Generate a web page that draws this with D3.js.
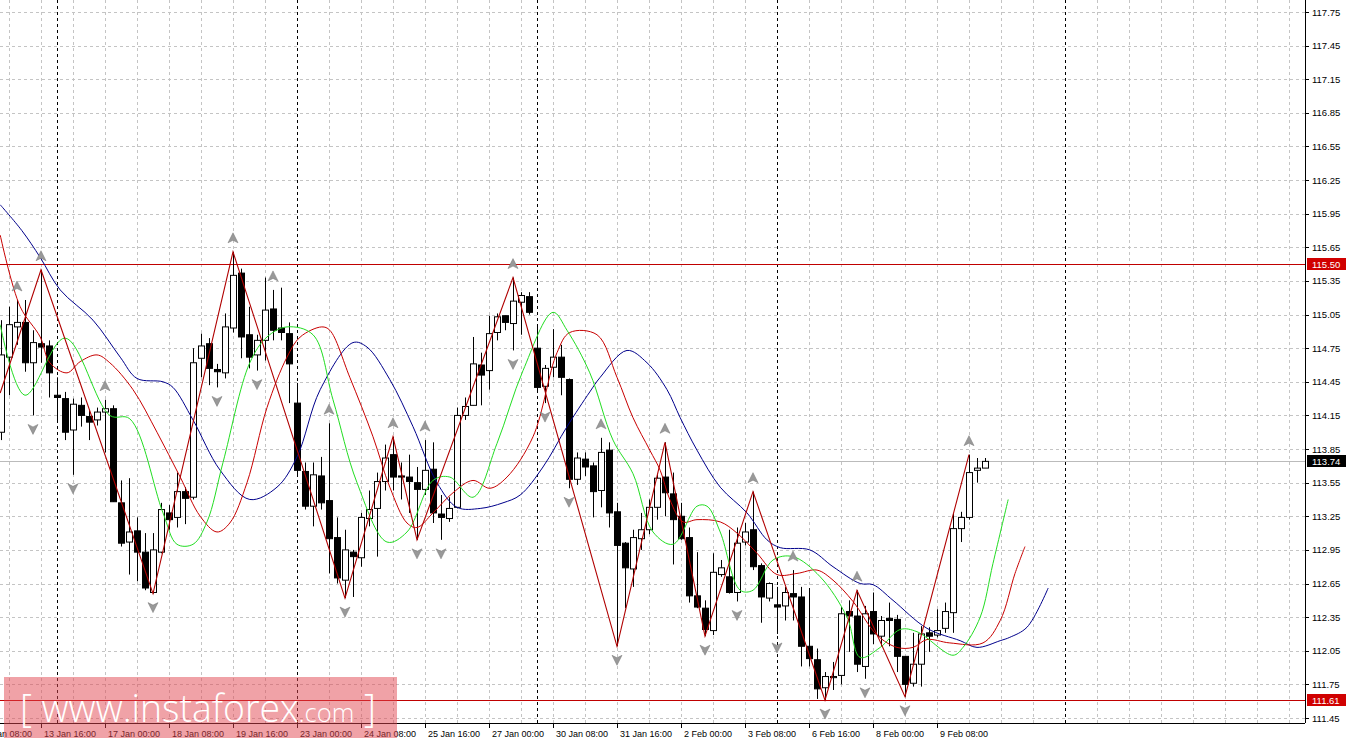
<!DOCTYPE html>
<html><head><meta charset="utf-8">
<script src="https://cdn.jsdelivr.net/npm/d3@7/dist/d3.min.js"></script>
<style>body{margin:0;background:#fff;overflow:hidden}svg{display:block}</style>
</head><body><svg id="c" width="1348" height="746"></svg>
<script>
const opens=[114.00,114.67,114.94,114.98,114.62,114.79,114.77,114.33,114.30,114.02,114.24,114.14,114.11,114.18,114.21,113.37,113.02,113.12,112.93,112.57,112.93,113.28,113.24,113.47,113.42,114.66,114.79,114.56,114.53,114.93,115.42,114.87,114.69,114.82,115.10,114.93,114.88,114.26,113.65,113.34,113.61,113.39,113.06,112.68,112.93,112.88,113.23,113.32,113.56,113.80,113.61,113.60,113.55,113.49,113.67,113.27,113.23,113.33,114.15,114.24,114.60,114.55,114.89,115.04,114.97,115.16,115.21,114.75,114.41,114.58,114.67,114.47,113.58,113.76,113.70,113.48,113.84,113.29,113.01,112.78,113.05,113.13,113.33,113.60,113.45,113.25,113.06,112.54,112.43,112.23,112.73,112.71,112.57,113.02,113.13,112.81,112.52,112.46,112.45,112.56,112.53,112.09,111.97,111.72,111.81,111.83,112.40,112.36,111.91,112.40,112.18,112.34,112.33,112.00,111.76,111.93,112.21,112.19,112.25,112.39,113.14,113.24,113.66,113.68];
const highs=[115.00,115.12,115.18,115.18,114.91,115.45,114.82,114.49,114.36,114.30,114.31,114.20,114.22,114.29,114.24,113.57,113.59,113.24,113.10,113.10,113.37,113.35,113.64,113.51,114.75,114.88,114.84,114.61,115.06,115.61,115.46,115.12,114.87,115.38,115.27,115.29,114.98,114.44,113.73,113.73,113.78,114.08,113.24,113.13,112.95,113.28,113.48,113.64,113.89,113.96,113.73,113.80,113.69,113.93,113.91,113.44,113.42,114.22,114.31,114.85,114.71,115.04,115.06,115.04,115.38,115.25,115.25,114.96,114.60,114.92,114.78,114.48,113.82,113.82,113.73,113.95,113.91,113.37,113.02,113.13,113.28,113.40,113.62,113.91,113.64,113.37,113.15,112.93,112.50,112.92,112.86,113.13,113.15,113.19,113.47,112.83,112.66,112.62,112.62,112.77,112.62,112.61,112.07,111.86,111.95,112.44,112.50,112.59,112.45,112.57,112.36,112.48,112.37,112.00,112.21,112.27,112.26,112.42,112.48,113.28,113.29,113.80,113.77,113.77];
const lows=[113.93,114.33,114.78,114.54,114.15,114.62,114.31,114.09,113.93,113.62,114.05,113.93,114.06,113.82,113.38,112.98,112.73,112.67,112.59,112.56,112.92,113.13,113.15,113.18,113.40,114.49,114.42,114.40,114.48,114.89,114.66,114.57,114.55,114.64,114.82,114.82,114.26,113.62,113.31,113.16,113.31,112.74,112.65,112.52,112.53,112.80,113.16,112.89,113.48,113.48,113.40,113.28,113.04,113.44,113.19,113.04,113.20,113.32,114.11,114.24,114.24,114.38,114.82,114.91,114.73,114.87,115.05,114.35,114.26,114.49,114.33,113.50,113.53,113.61,113.24,113.33,113.15,112.09,112.43,112.62,112.95,113.09,113.22,113.25,112.82,113.04,112.48,112.43,112.18,112.19,112.71,112.56,112.49,112.99,112.77,112.30,112.49,112.20,112.32,112.32,111.91,111.91,111.62,111.61,111.70,111.75,112.04,111.86,111.80,112.11,112.09,112.09,111.86,111.64,111.73,111.73,112.04,112.17,112.21,112.21,113.02,113.22,113.55,113.68];
const closes=[114.69,114.96,114.98,114.62,114.80,114.76,114.53,114.31,114.00,114.25,114.15,114.09,114.18,114.21,113.38,113.01,113.11,112.93,112.61,112.95,113.31,113.22,113.47,113.41,114.62,114.77,114.57,114.54,114.94,115.40,114.85,114.67,114.82,115.09,114.91,114.89,114.61,113.66,113.34,113.62,113.37,113.05,112.70,112.95,112.89,113.24,113.31,113.56,113.77,113.60,113.60,113.56,113.49,113.66,113.28,113.24,113.32,114.15,114.23,114.61,114.51,114.88,115.03,114.98,115.17,115.22,115.07,114.40,114.57,114.67,114.49,113.58,113.77,113.69,113.47,113.82,113.28,112.99,112.79,113.06,113.13,113.33,113.59,113.46,113.22,113.05,112.54,112.44,112.24,112.75,112.79,112.57,113.01,113.11,112.80,112.53,112.65,112.44,112.57,112.53,112.09,111.98,111.71,111.82,111.82,112.38,112.36,111.93,112.38,112.20,112.32,112.32,112.00,111.75,111.93,112.20,112.18,112.23,112.40,113.14,113.24,113.64,113.68,113.74];

const greenIdx=[-0.1,3,8,13.6,16.1,20.25,22,24,25.75,27.75,31.1,33.25,35.75,39,41.5,44.5,48.25,50.75,54,56.1,59,62,65.25,69,70.75,73.6,76.5,79,81.5,84,87,88.25,89.9,92.4,94,96.5,99,102.4,105.75,107.4,109.9,112.4,114.5,119,120.25,122.4,124,125.9];
const greenVal=[114.96,114.33,114.84,114.15,114.12,113.28,113.00,113.00,113.20,113.73,114.62,114.85,114.94,114.87,114.29,113.55,113.02,113.11,113.57,113.60,113.42,113.90,114.55,115.07,114.91,114.53,113.93,113.63,113.11,113.00,113.34,113.34,113.11,112.59,112.59,112.86,112.89,112.71,112.35,111.99,112.08,112.24,112.22,112.01,112.08,112.35,112.83,113.40];
const redIdx=[-0.1,2.4,4.9,6.1,8.25,9.9,12,13.6,16.5,19.5,22.4,24.9,27,28.6,30.75,33.25,35.75,37.4,40.1,41.1,43.6,46.5,48.6,50.75,52,54,56.5,59,61.1,63.25,66.5,69.5,71.1,74.5,77,79,81.1,82.4,83.6,85.25,87,89.9,92,94.5,97,99.5,102,104,106.5,109.5,112,114,115.75,118.6,122.75,124.9,126.75,128];
const redVal=[115.76,115.12,114.85,114.62,114.53,114.63,114.69,114.62,114.38,114.00,113.60,113.25,113.11,113.19,113.55,114.22,114.67,114.85,114.94,114.91,114.49,113.96,113.51,113.19,113.15,113.28,113.46,113.57,113.50,113.60,113.96,114.71,114.89,114.87,114.49,114.13,113.84,113.66,113.40,113.20,113.22,113.20,113.10,112.92,112.73,112.74,112.77,112.68,112.49,112.19,112.08,112.08,112.15,112.12,112.12,112.32,112.74,112.98];
const blueIdx=[-0.1,2.6,4.9,7.4,11.5,14.9,17,20.25,21.5,24,27.4,31.1,34.5,37,39.9,44,45.75,48.6,51.5,54.5,57,59.9,62.75,64.9,67.75,70.75,73.6,74.9,78.25,80.75,83.25,84.9,87,89.9,93.25,95.75,97.4,101.1,104,107.4,109,111.5,115.75,119.9,122,124.9,126.1,128.25,130.9];
const blueVal=[116.03,115.80,115.56,115.27,115.00,114.67,114.48,114.45,114.40,114.11,113.66,113.40,113.51,113.78,114.38,114.80,114.76,114.47,114.05,113.55,113.33,113.32,113.37,113.44,113.69,114.05,114.36,114.49,114.73,114.62,114.38,114.13,113.84,113.51,113.28,113.04,112.97,112.95,112.80,112.65,112.64,112.50,112.25,112.14,112.08,112.14,112.17,112.26,112.61];
const zigIdx=[-0.1,5,19,29,43,49,52,64,77,83,88,94,103,107,113,121];
const zigVal=[114.35,115.45,112.56,115.61,112.52,113.96,113.04,115.38,112.09,113.91,112.18,113.47,111.61,112.59,111.64,113.80];
const upFractals=[2,5,13,29,34,41,49,53,64,75,83,94,99,107,121];
const downFractals=[4,9,19,27,32,43,52,55,64,68,71,77,88,92,97,103,108,113];
const priceTicks=[117.75,117.45,117.15,116.85,116.55,116.25,115.95,115.65,115.35,115.05,114.75,114.45,114.15,113.85,113.55,113.25,112.95,112.65,112.35,112.05,111.75,111.45];
const timeLabels=["12 Jan 08:00","13 Jan 16:00","17 Jan 00:00","18 Jan 08:00","19 Jan 16:00","23 Jan 00:00","24 Jan 08:00","25 Jan 16:00","27 Jan 00:00","30 Jan 08:00","31 Jan 16:00","2 Feb 00:00","3 Feb 08:00","6 Feb 16:00","8 Feb 00:00","9 Feb 08:00"];
const timeLabelIdx=[-3,5,13,21,29,37,45,53,61,69,77,85,93,101,109,117];
const weekIdx=[7,37,67,97,133];
const levels=[115.50,111.61];
const lastPrice=113.74;

highs[107]=112.59; highs[108]=112.45;

const svg=d3.select("#c");
const W=1305, AX=723;
const x=d3.scaleLinear().domain([-0.125,163]).range([0,W]);
const y=d3.scaleLinear().domain([111.45,117.75]).range([718,12]);
const font="Liberation Sans, Arial, sans-serif";
const g=svg.append("g");
const vgrid=d3.range(1,163,4);
g.selectAll(".vg").data(vgrid).join("line").attr("x1",d=>Math.round(x(d))+0.5).attr("x2",d=>Math.round(x(d))+0.5)
 .attr("y1",0).attr("y2",AX).attr("stroke","#c4c4c4").attr("stroke-dasharray","3,3");
g.selectAll(".hg").data(priceTicks).join("line").attr("x1",0).attr("x2",W).attr("y1",d=>Math.round(y(d))+0.5).attr("y2",d=>Math.round(y(d))+0.5)
 .attr("stroke","#c4c4c4").attr("stroke-dasharray","3,3");
g.selectAll(".wk").data(weekIdx).join("line").attr("x1",d=>Math.round(x(d))+0.5).attr("x2",d=>Math.round(x(d))+0.5)
 .attr("y1",0).attr("y2",AX).attr("stroke","#000").attr("stroke-dasharray","3,3");
g.append("line").attr("x1",0).attr("x2",W).attr("y1",Math.round(y(lastPrice))+0.5).attr("y2",Math.round(y(lastPrice))+0.5).attr("stroke","#bbb");
g.selectAll(".lv").data(levels).join("line").attr("x1",0).attr("x2",W).attr("y1",d=>Math.round(y(d))+0.5).attr("y2",d=>Math.round(y(d))+0.5).attr("stroke","#c00000");

const idx=d3.range(closes.length);
const cg=g.append("g");
cg.selectAll(".wick").data(idx).join("line").attr("x1",i=>Math.round(x(i))+0.5).attr("x2",i=>Math.round(x(i))+0.5)
 .attr("y1",i=>y(highs[i])).attr("y2",i=>y(lows[i])).attr("stroke","#000");
cg.selectAll(".body").data(idx).join("rect").attr("x",i=>Math.round(x(i))-2.5).attr("width",6)
 .attr("y",i=>y(Math.max(opens[i],closes[i]))).attr("height",i=>Math.max(1,Math.abs(y(opens[i])-y(closes[i]))))
 .attr("fill",i=>closes[i]>=opens[i]?"#fff":"#000").attr("stroke","#000");

const mk=(ix,vals)=>ix.map((d,k)=>[x(d),y(vals[k])]);
const ln=d3.line().curve(d3.curveCatmullRom);
g.append("path").attr("d",ln(mk(blueIdx,blueVal))).attr("fill","none").attr("stroke","#00008b").attr("stroke-width",1);
g.append("path").attr("d",ln(mk(redIdx,redVal))).attr("fill","none").attr("stroke","#c80000").attr("stroke-width",1);
g.append("path").attr("d",ln(mk(greenIdx,greenVal))).attr("fill","none").attr("stroke","#22dd22").attr("stroke-width",1);
g.append("path").attr("d",d3.line()(mk(zigIdx,zigVal))).attr("fill","none").attr("stroke","#b00000").attr("stroke-width",1.1);

const upPath="M0,-6 L5,4 L0,1.5 L-5,4 Z";
g.selectAll(".uf").data(upFractals).join("path").attr("d",upPath)
 .attr("transform",i=>`translate(${x(i)},${y(highs[i])-13})`).attr("fill","#999").attr("stroke","#777").attr("stroke-width",0.5);
g.selectAll(".df").data(downFractals).join("path").attr("d",upPath)
 .attr("transform",i=>`translate(${x(i)},${y(lows[i])+13}) rotate(180)`).attr("fill","#999").attr("stroke","#777").attr("stroke-width",0.5);

svg.append("line").attr("x1",W+0.5).attr("x2",W+0.5).attr("y1",0).attr("y2",AX).attr("stroke","#000");
svg.append("line").attr("x1",0).attr("x2",W).attr("y1",AX+0.5).attr("y2",AX+0.5).attr("stroke","#000");
const ay=svg.append("g");
ay.selectAll("line").data(priceTicks).join("line").attr("x1",W).attr("x2",W+4).attr("y1",d=>Math.round(y(d))+0.5).attr("y2",d=>Math.round(y(d))+0.5).attr("stroke","#000");
ay.selectAll("text").data(priceTicks).join("text").attr("x",W+7).attr("y",d=>y(d)+3.5).text(d=>d.toFixed(2))
 .attr("font-family",font).attr("font-size",9.5).attr("fill","#000");
const boxes=[{v:levels[0],c:"#d00000"},{v:lastPrice,c:"#000"},{v:levels[1],c:"#d00000"}];
boxes.forEach(b=>{
  const yy=Math.round(y(b.v));
  svg.append("rect").attr("x",W+2).attr("y",yy-6).attr("width",39).attr("height",12).attr("fill",b.c);
  svg.append("text").attr("x",W+7).attr("y",yy+3.5).text(b.v.toFixed(2)).attr("font-family",font).attr("font-size",9.5).attr("fill","#fff");
});
const ax=svg.append("g");
ax.selectAll("line").data(timeLabelIdx).join("line").attr("x1",i=>Math.round(x(i))+0.5).attr("x2",i=>Math.round(x(i))+0.5).attr("y1",AX).attr("y2",AX+5).attr("stroke","#000");
ax.selectAll("text").data(timeLabels).join("text").attr("x",(d,k)=>x(timeLabelIdx[k])+3).attr("y",AX+14).text(d=>d)
 .attr("font-family",font).attr("font-size",9).attr("fill","#000");

const wm=svg.append("g");
wm.append("rect").attr("x",4).attr("y",677).attr("width",393).attr("height",61).attr("fill","rgb(225,70,80)").attr("opacity",0.5);
const t=wm.append("text").attr("x",20).attr("y",722).attr("fill","#fff").attr("font-family","Open Sans, sans-serif").attr("font-weight",300).attr("textLength",356).attr("lengthAdjust","spacingAndGlyphs");
t.append("tspan").attr("font-size",38).text("[ www.instaforex");
t.append("tspan").attr("font-size",26).text(".com");
t.append("tspan").attr("font-size",38).text(" ]");
</script></body></html>
